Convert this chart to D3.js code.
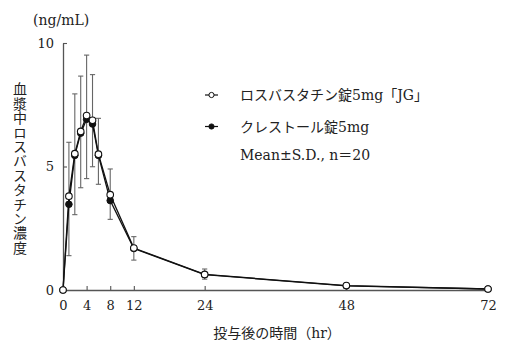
<!DOCTYPE html>
<html><head><meta charset="utf-8">
<script src="https://cdn.jsdelivr.net/npm/d3@7"></script>
<style>body{margin:0;background:#fff}svg{display:block}</style>
</head><body><svg id="c" width="516" height="351"></svg>
<script>
const hours=[0,1,2,3,4,5,6,8,12,24,48,72];
const genericMean=[0,3.80,5.52,6.42,7.06,6.87,5.50,3.86,1.70,0.63,0.18,0.04];
const genericSD=[0,2.18,2.42,2.24,2.45,1.85,1.45,1.04,0.46,0.22,0.05,0.02];
const brandMean=[0,3.47,5.45,6.35,6.91,6.72,5.45,3.62,1.68,0.62,0.17,0.04];
const brandSD=[0,2.08,2.40,2.21,2.40,1.73,1.17,0.76,0.47,0.18,0.05,0.02];
const xTicks=[0,4,8,12,24,48,72];
const yTicks=[0,5,10];
const genericName="ロスバスタチン錠5mg「JG」";
const brandName="クレストール錠5mg";
const statsNote="Mean±S.D., n＝20";
const yTitle="血漿中ロスバスタチン濃度";
const xTitle="投与後の時間（hr）";
const yUnit="(ng/mL)";

const LATIN="'DejaVu Serif','Noto Sans CJK JP',serif";
const svg=d3.select("#c");
const x=d3.scaleLinear().domain([0,72]).range([63,488]);
const y=d3.scaleLinear().domain([0,10]).range([290,43]);
const axisColor="#555";

// axes
const gx=svg.append("g").attr("transform",`translate(0,${y(0)})`)
  .call(d3.axisBottom(x).tickValues(xTicks).tickSize(-4).tickSizeOuter(0).tickPadding(11));
const gy=svg.append("g").attr("transform",`translate(${x(0)},0)`)
  .call(d3.axisLeft(y).tickValues(yTicks).tickSize(-4).tickSizeOuter(0).tickPadding(9));
[gx,gy].forEach(g=>{
  g.select(".domain").attr("stroke",axisColor).attr("stroke-width",1.3);
  g.selectAll(".tick line").attr("stroke",axisColor).attr("stroke-width",1.1);
  g.selectAll(".tick text").attr("fill","#222").style("font-family",LATIN).style("font-size","13px");
});
gx.selectAll(".tick").filter(d=>d===0).select("line").remove();
gy.selectAll(".tick").filter(d=>d===0).select("line").remove();

// error bars
const gen=hours.map((h,i)=>({h,m:genericMean[i],sd:genericSD[i]}));
const bra=hours.map((h,i)=>({h,m:brandMean[i],sd:brandSD[i]}));
const eb=svg.append("g").attr("stroke","#666").attr("stroke-width",1.1).attr("fill","none");
gen.filter(d=>d.sd>0).forEach(d=>{
  eb.append("line").attr("x1",x(d.h)).attr("x2",x(d.h)).attr("y1",y(d.m)).attr("y2",y(d.m+d.sd));
  eb.append("line").attr("x1",x(d.h)-2.6).attr("x2",x(d.h)+2.6).attr("y1",y(d.m+d.sd)).attr("y2",y(d.m+d.sd));
});
bra.filter(d=>d.sd>0).forEach(d=>{
  eb.append("line").attr("x1",x(d.h)).attr("x2",x(d.h)).attr("y1",y(d.m)).attr("y2",y(d.m-d.sd));
  eb.append("line").attr("x1",x(d.h)-2.6).attr("x2",x(d.h)+2.6).attr("y1",y(d.m-d.sd)).attr("y2",y(d.m-d.sd));
});

// lines
const line=d3.line().x(d=>x(d.h)).y(d=>y(d.m));
svg.append("path").datum(bra).attr("d",line).attr("fill","none").attr("stroke","#111").attr("stroke-width",1.3);
svg.append("path").datum(gen).attr("d",line).attr("fill","none").attr("stroke","#111").attr("stroke-width",1.3);

// points
svg.append("g").selectAll("circle").data(bra).join("circle")
  .attr("cx",d=>x(d.h)).attr("cy",d=>y(d.m)).attr("r",3.3).attr("fill","#111").attr("stroke","#111").attr("stroke-width",1);
svg.append("g").selectAll("circle").data(gen).join("circle")
  .attr("cx",d=>x(d.h)).attr("cy",d=>y(d.m)).attr("r",3.3).attr("fill","#fff").attr("stroke","#111").attr("stroke-width",1.1);

// legend
const lg=svg.append("g");
const rows=[{t:genericName,open:true,y:95},{t:brandName,open:false,y:126.5}];
rows.forEach(r=>{
  lg.append("line").attr("x1",205).attr("x2",218).attr("y1",r.y).attr("y2",r.y).attr("stroke","#111").attr("stroke-width",1.2);
  lg.append("circle").attr("cx",211.5).attr("cy",r.y).attr("r",2.6)
    .attr("fill",r.open?"#fff":"#111").attr("stroke","#111").attr("stroke-width",1);
  lg.append("text").attr("x",240).attr("y",r.y).attr("dy","0.36em").text(r.t)
    .style("font-family",LATIN).style("font-size","14px").attr("fill","#222");
});
lg.append("text").attr("x",240).attr("y",155).attr("dy","0.36em").text(statsNote)
  .style("font-family",LATIN).style("font-size","14px").attr("fill","#222");

// titles
svg.append("text").attr("x",33).attr("y",25).text(yUnit)
  .style("font-family",LATIN).style("font-size","14px").attr("fill","#222");
svg.append("text").attr("x",277).attr("y",338).attr("text-anchor","middle").text(xTitle)
  .style("font-family",LATIN).style("font-size","14px").attr("fill","#222");
svg.append("text").attr("x",20).attr("y",82).text(yTitle)
  .style("writing-mode","vertical-rl").style("text-orientation","upright")
  .style("font-family","'Noto Sans CJK JP',sans-serif").style("font-size","14px")
  .style("letter-spacing","0.4px").attr("fill","#222");
</script></body></html>
